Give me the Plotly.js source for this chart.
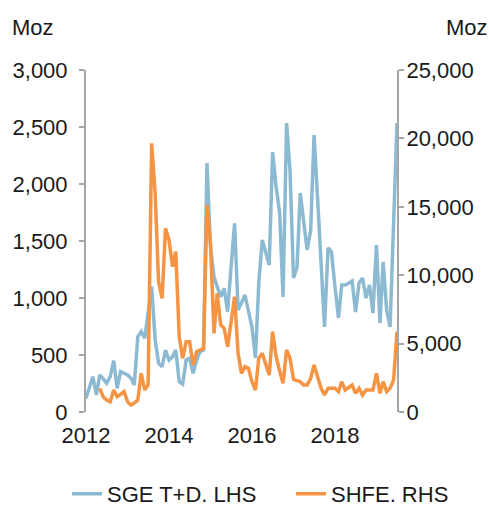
<!DOCTYPE html>
<html><head><meta charset="utf-8">
<script src="https://cdn.plot.ly/plotly-3.0.1.min.js"></script>
<style>html,body{margin:0;padding:0;background:#fff}#chart{width:489px;height:506px}</style>
</head><body><div id="chart"></div>
<script>
// Monthly data, Jan 2012 – Jul 2019
const startYear = 2012;
const sgeTD = [120,215,310,149,325,290,252,310,450,208,354,340,325,296,237,660,705,647,870,1099,
  632,427,397,544,456,485,544,266,246,456,471,339,456,529,544,2184,1447,1187,1100,1011,
  1085,880,1270,1655,895,960,1026,886,746,474,1132,1509,1400,1289,2281,1974,1746,1009,2535,2123,
  1175,1272,1921,1640,1421,1596,2430,1870,1300,746,1439,1404,1100,825,1114,1114,1130,1150,877,1132,
  1175,1000,1114,868,1465,781,1316,895,746,1640,2535];
const shfeStart = 4; // first month index of SHFE series (May 2012)
const shfe = [1730,1100,877,753,1608,1120,1300,1486,753,512,650,877,2826,1608,2000,19640,
  15985,9527,8310,13425,12570,10620,11720,5500,3925,5140,5140,3436,4410,4500,4650,15130,
  12330,5750,8670,6360,6120,4775,6600,8430,4290,2826,3314,3192,2217,1608,3925,4290,3500,2705,
  5870,4045,3000,2100,4532,3925,2387,2300,2217,1974,1974,2460,3436,2580,1730,1243,1730,1730,1730,1486,
  2217,1608,1800,1974,1365,1730,1243,1608,1608,1608,2826,1365,2217,1486,1730,2339,5870];
const tickYears = ['2012','2014','2016','2018'];
const seriesNames = ['SGE T+D. LHS','SHFE. RHS'];
const unitLabel = 'Moz';

function monthDate(i){
  const y = startYear + Math.floor(i/12), m = (i%12)+1;
  return y + '-' + (m<10?'0':'') + m + '-01';
}
const xBlue = sgeTD.map((_,i)=>monthDate(i));
const xOrange = shfe.map((_,i)=>monthDate(i+shfeStart));

const font = {family:'Liberation Sans, Arial, sans-serif', size:22, color:'#1a1a1a'};
const traces = [
  {x:xBlue, y:sgeTD, name:seriesNames[0], type:'scatter', mode:'lines',
   line:{color:'#8DBAD3', width:3.5}, yaxis:'y', legend:'legend'},
  {x:xOrange, y:shfe, name:seriesNames[1], type:'scatter', mode:'lines',
   line:{color:'#F59443', width:3.5}, yaxis:'y2', legend:'legend2'}
];
const legendBase = {orientation:'h', xref:'container', yref:'container', xanchor:'left',
  y:0.024, yanchor:'middle', font:font, bgcolor:'rgba(0,0,0,0)'};
const layout = {
  width:489, height:506,
  margin:{l:86, r:92, t:70, b:94, autoexpand:false},
  paper_bgcolor:'#fff', plot_bgcolor:'#fff',
  font:font,
  showlegend:true,
  legend:Object.assign({}, legendBase, {x:0.137}),
  legend2:Object.assign({}, legendBase, {x:0.595}),
  xaxis:{type:'date', range:[monthDate(0), monthDate(sgeTD.length-1)],
         tickvals:tickYears.map(y=>y+'-01-01'), ticktext:tickYears,
         showgrid:false, zeroline:false, showline:false, ticks:'', ticklabelstandoff:8},
  yaxis:{range:[0,3000], dtick:500, tickformat:',d', showgrid:false, zeroline:false,
         showline:true, linecolor:'#a6a6a6', linewidth:2, ticks:'outside', ticklen:5,
         tickcolor:'#a6a6a6', tickwidth:2, ticklabelstandoff:7},
  yaxis2:{range:[0,25000], dtick:5000, tickformat:',d', overlaying:'y', side:'right',
          showgrid:false, zeroline:false, showline:true, linecolor:'#a6a6a6', linewidth:2,
          ticks:'outside', ticklen:5, tickcolor:'#a6a6a6', tickwidth:2, ticklabelstandoff:-2},
  annotations:[
    {text:unitLabel, xref:'paper', yref:'paper', x:-0.245, y:1.125, xanchor:'left', yanchor:'middle', showarrow:false, font:font},
    {text:unitLabel, xref:'paper', yref:'paper', x:1.298, y:1.125, xanchor:'right', yanchor:'middle', showarrow:false, font:font}
  ]
};
Plotly.newPlot('chart', traces, layout, {displayModeBar:false, staticPlot:true});
</script></body></html>
